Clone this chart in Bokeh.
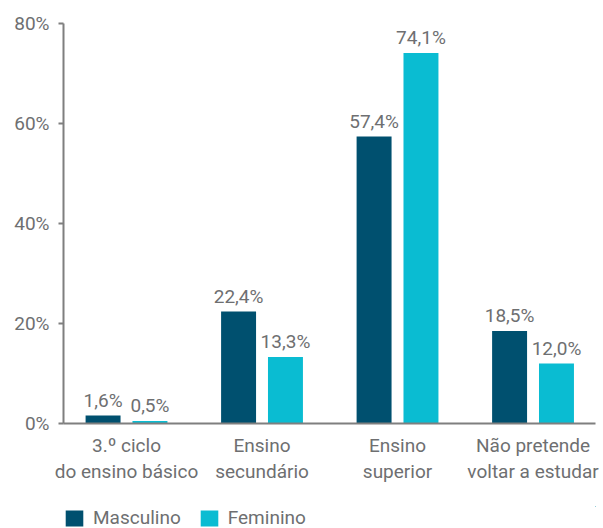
from bokeh.plotting import figure
from bokeh.layouts import column
from bokeh.models import ColumnDataSource, Range1d, FixedTicker, PrintfTickFormatter, Legend, LegendItem
from bokeh.core.properties import value
from bokeh.embed import file_html
from bokeh.resources import INLINE

categories = ["3.º ciclo\ndo ensino básico", "Ensino\nsecundário", "Ensino\nsuperior", "Não pretende\nvoltar a estudar"]
masculino = [1.6, 22.4, 57.4, 18.5]
feminino = [0.5, 13.3, 74.1, 12.0]
y_ticks = [0, 20, 40, 60, 80]
series_names = ["Masculino", "Feminino"]

DARK = "#00506F"
CYAN = "#0ABCD2"
GREY = "#6E6F71"
AXIS = "#7F7F7F"
FONT = "Roboto"
FS = "19px"

idx = list(range(len(categories)))
off = 0.173
bw = 0.258

def fmt(v):
    return f"{v:.1f}".replace(".", ",") + "%"

src_m = ColumnDataSource(dict(x=[i - off for i in idx], top=masculino, lbl=[fmt(v) for v in masculino]))
src_f = ColumnDataSource(dict(x=[i + off for i in idx], top=feminino, lbl=[fmt(v) for v in feminino]))

p = figure(width=603, height=499, output_backend="svg", toolbar_location=None,
           x_range=Range1d(-0.465, 3.461), y_range=Range1d(0, 80),
           min_border_left=63, min_border_right=8, min_border_top=23, min_border_bottom=76)
p.outline_line_color = None
p.xgrid.visible = False
p.ygrid.visible = False
p.background_fill_color = None
p.border_fill_color = "white"

rm = p.vbar(x="x", top="top", width=bw, source=src_m, color=DARK, line_color=None)
rf = p.vbar(x="x", top="top", width=bw, source=src_f, color=CYAN, line_color=None)

for s in (src_m, src_f):
    p.text(x="x", y="top", text="lbl", source=s, text_align="center", text_baseline="bottom",
           y_offset=-4, text_font=value(FONT), text_font_size=FS, text_color=GREY)

# y axis
ya = p.yaxis[0]
ya.ticker = FixedTicker(ticks=y_ticks)
ya.formatter = PrintfTickFormatter(format="%d%%")
ya.axis_line_color = AXIS
ya.axis_line_width = 2
ya.major_tick_line_color = AXIS
ya.major_tick_line_width = 2
ya.major_tick_out = 5
ya.major_tick_in = 0
ya.minor_tick_line_color = None
ya.major_label_standoff = 9
ya.major_label_text_font = FONT
ya.major_label_text_font_size = FS
ya.major_label_text_color = GREY

# x axis
xa = p.xaxis[0]
xa.ticker = FixedTicker(ticks=idx)
xa.major_label_overrides = {i: c for i, c in zip(idx, categories)}
xa.axis_line_color = AXIS
xa.axis_line_width = 2
xa.major_tick_line_color = None
xa.major_tick_out = 0
xa.major_tick_in = 0
xa.minor_tick_line_color = None
xa.major_label_standoff = 10
xa.major_label_text_font = FONT
xa.major_label_text_font_size = FS
xa.major_label_text_color = GREY
xa.major_label_text_line_height = 1.15

# legend strip below the chart (its own view range shows no bars, only the legend)
pl = figure(width=603, height=29, output_backend="svg", toolbar_location=None,
            x_range=Range1d(-100, -99), y_range=Range1d(-100, -99),
            min_border_left=62, min_border_right=0, min_border_top=7, min_border_bottom=0)
pl.outline_line_color = None
pl.axis.visible = False
pl.xgrid.visible = False
pl.ygrid.visible = False
pl.border_fill_color = "white"
lm = pl.vbar(x="x", top="top", width=bw, source=src_m, color=DARK, line_color=None)
lf = pl.vbar(x="x", top="top", width=bw, source=src_f, color=CYAN, line_color=None)

legend = Legend(items=[LegendItem(label=series_names[0], renderers=[lm]),
                       LegendItem(label=series_names[1], renderers=[lf])],
                orientation="horizontal", location="top_left",
                glyph_width=22, glyph_height=20, label_standoff=8, spacing=17,
                padding=0, margin=0, border_line_color=None, background_fill_alpha=0,
                label_text_font=FONT, label_text_font_size=FS, label_text_color=GREY)
pl.add_layout(legend, "center")

layout = column(p, pl, spacing=0)
open("out.html", "w").write(file_html(layout, INLINE))
